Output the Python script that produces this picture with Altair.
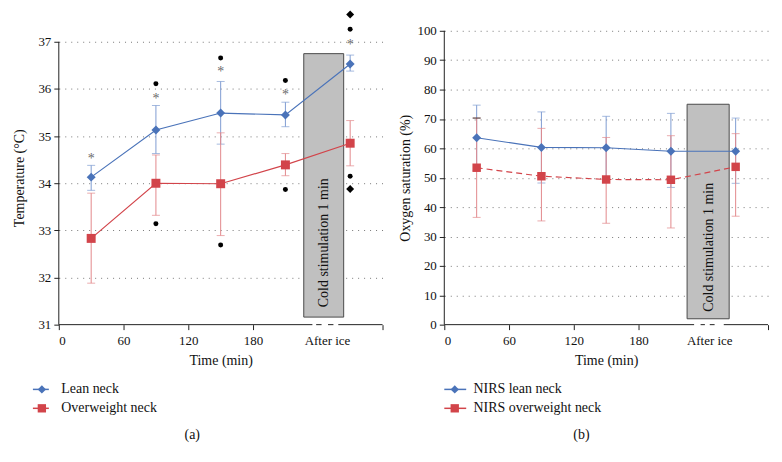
import altair as alt
import pandas as pd

FONT = "Liberation Serif"
BLUE = "#4a73b9"
BLUE_ERR = "#7f9dd2"
RED = "#d2444a"
RED_ERR = "#e2898c"

times = [30, 90, 150, 210, 270]

# ---------- panel (a): temperature ----------
lean_temp = [34.13, 35.13, 35.49, 35.45, 36.53]
lean_temp_hi = [34.38, 35.65, 36.16, 35.72, 36.72]
lean_temp_lo = [33.85, 34.63, 34.83, 35.20, 36.38]
over_temp = [32.83, 34.00, 33.99, 34.39, 34.85]
over_temp_hi = [33.79, 34.60, 35.07, 34.63, 35.33]
over_temp_lo = [31.88, 33.32, 32.89, 34.16, 34.37]

star_t = [30, 90, 150, 210, 270]
star_y = [34.58, 35.85, 36.42, 35.93, 36.99]
dot_t = [90, 150, 210, 270, 90, 150, 210, 270]
dot_y = [36.11, 36.66, 36.18, 37.27, 33.14, 32.69, 33.87, 34.15]
dia_t = [270, 270]
dia_y = [37.58, 33.88]

# ---------- panel (b): oxygen saturation ----------
nirs_lean = [63.6, 60.3, 60.2, 59.0, 59.0]
nirs_lean_hi = [74.7, 72.4, 70.9, 71.9, 70.3]
nirs_lean_lo = [52.5, 48.2, 49.5, 46.7, 48.1]
nirs_over = [53.4, 50.5, 49.4, 49.3, 53.7]
nirs_over_hi = [70.3, 66.8, 63.7, 64.3, 65.0]
nirs_over_lo = [36.5, 35.3, 34.5, 32.9, 36.9]
dark_cap_t = [30]
dark_cap_v = [70.3]

x_ticks = [0, 60, 120, 180, 300]
temp_ticks = [31, 32, 33, 34, 35, 36, 37]
sat_ticks = [0, 10, 20, 30, 40, 50, 60, 70, 80, 90, 100]

box_label = "Cold stimulation 1 min"
after_label = "After ice"

legend_a = ["Lean neck", "Overweight neck"]
legend_b = ["NIRS lean neck", "NIRS overweight neck"]


def make_panel(cfg):
    W, H = 325, 295
    ymin, ytop = cfg["ydom"]
    xs = alt.Scale(domain=[0, 300], nice=False, zero=False)
    ys = alt.Scale(domain=[ymin, ytop], nice=False, zero=False)
    xaxis = alt.Axis(values=x_ticks,
                     labelExpr="datum.value == 300 ? '' : datum.label",
                     domain=False, grid=False, tickSize=5, tickColor="#222",
                     labelPadding=5, labelFontSize=13, labelColor="#111",
                     title="Time (min)", titleFontSize=14, titleFontWeight="normal",
                     titleColor="#111", titlePadding=6)
    yaxis = alt.Axis(values=cfg["yvals"], domain=False, grid=True,
                     gridDash=[1, 5], gridColor="#777", gridWidth=1,
                     gridOpacity={"condition": {"test": f"datum.value == {ymin}", "value": 0}, "value": 1},
                     tickSize=5, tickColor="#222", labelPadding=3,
                     labelFontSize=13, labelColor="#111",
                     title=cfg["ytitle"], titleFontSize=14, titleFontWeight="normal",
                     titleColor="#111", titlePadding=cfg["ytp"])

    def X(f):
        return alt.X(f, type="quantitative", scale=xs, axis=xaxis)

    def Y(f):
        return alt.Y(f, type="quantitative", scale=ys, axis=yaxis)

    layers = []
    # stimulation box
    bx = pd.DataFrame({"t0": [cfg["box"][0]], "t1": [cfg["box"][1]],
                       "lo": [cfg["box"][2]], "hi": [cfg["box"][3]]})
    layers.append(alt.Chart(bx).mark_rect(fill="#c0c0c0", stroke="#4a4a4a", strokeWidth=1).encode(
        x=X("t0"), x2="t1", y=Y("lo"), y2="hi"))
    bt = pd.DataFrame({"t": [cfg["box_text"][0]], "v": [cfg["box_text"][1]], "lab": [box_label]})
    layers.append(alt.Chart(bt).mark_text(angle=270, align="left", baseline="middle",
                                          fontSize=14, color="#111").encode(
        x=X("t"), y=Y("v"), text="lab"))
    # broken x axis line
    segs = pd.DataFrame({"a": cfg["segs"][0], "b": cfg["segs"][1],
                         "v": [ymin] * len(cfg["segs"][0])})
    layers.append(alt.Chart(segs).mark_rule(color="#222", strokeWidth=1).encode(
        x=X("a"), x2="b", y=Y("v")))
    # y axis line
    yl = pd.DataFrame({"t": [0], "lo": [ymin], "hi": [cfg["ymax"]]})
    layers.append(alt.Chart(yl).mark_rule(color="#222", strokeWidth=1).encode(
        x=X("t"), y=Y("lo"), y2="hi"))
    # after-ice label
    al = pd.DataFrame({"t": [cfg["after_t"]], "v": [ymin], "lab": [after_label]})
    layers.append(alt.Chart(al).mark_text(baseline="top", dy=10, fontSize=13, color="#111").encode(
        x=X("t"), y=Y("v"), text="lab"))

    for s in cfg["series"]:
        df = pd.DataFrame({"t": times, "v": s["v"], "lo": s["lo"], "hi": s["hi"]})
        layers.append(alt.Chart(df).mark_rule(color=s["err"], strokeWidth=1).encode(
            x=X("t"), y=Y("lo"), y2="hi"))
        layers.append(alt.Chart(df).mark_tick(color=s["err"], orient="horizontal",
                                              size=8, thickness=1).encode(x=X("t"), y=Y("lo")))
        layers.append(alt.Chart(df).mark_tick(color=s["err"], orient="horizontal",
                                              size=8, thickness=1).encode(x=X("t"), y=Y("hi")))
    if cfg.get("dark_cap"):
        dc = pd.DataFrame({"t": dark_cap_t, "v": dark_cap_v})
        layers.append(alt.Chart(dc).mark_tick(color="#333", orient="horizontal",
                                              size=8, thickness=1.3).encode(x=X("t"), y=Y("v")))
    for s in cfg["series"]:
        df = pd.DataFrame({"t": times, "v": s["v"]})
        lk = dict(color=s["color"], strokeWidth=1.2)
        if s.get("dash"):
            lk["strokeDash"] = s["dash"]
        layers.append(alt.Chart(df).mark_line(**lk).encode(x=X("t"), y=Y("v")))
        layers.append(alt.Chart(df).mark_point(shape=s["shape"], filled=True, size=s["size"],
                                               color=s["color"], opacity=1).encode(
            x=X("t"), y=Y("v")))
    if cfg.get("ann"):
        sd = pd.DataFrame({"t": star_t, "v": star_y, "lab": ["*"] * len(star_t)})
        layers.append(alt.Chart(sd).mark_text(fontSize=14, color="#6a6a6a", baseline="middle", dy=3).encode(
            x=X("t"), y=Y("v"), text="lab"))
        dd = pd.DataFrame({"t": dot_t, "v": dot_y})
        layers.append(alt.Chart(dd).mark_point(shape="circle", filled=True, size=25,
                                               color="#000", opacity=1).encode(x=X("t"), y=Y("v")))
        dm = pd.DataFrame({"t": dia_t, "v": dia_y})
        layers.append(alt.Chart(dm).mark_point(shape="diamond", filled=True, size=64,
                                               color="#000", opacity=1).encode(x=X("t"), y=Y("v")))
    return alt.layer(*layers).properties(width=W, height=H)


def make_legend(labels, colors, shapes, geo, caption, cap_x):
    rows = pd.DataFrame({"lab": labels, "color": colors, "shape": shapes,
                         "x0": [geo[0]] * 2, "x1": [geo[1]] * 2, "xm": [geo[2]] * 2,
                         "xt": [geo[3]] * 2, "y": [15, 34]})
    xs = alt.Scale(domain=[0, 325], nice=False, zero=False)
    ys = alt.Scale(domain=[0, 80], nice=False, zero=False, reverse=True)
    base = alt.Chart(rows)
    cscale = alt.Scale(domain=labels, range=colors)
    sscale = alt.Scale(domain=labels, range=shapes)
    ln = base.mark_rule(strokeWidth=1.5).encode(
        x=alt.X("x0:Q", scale=xs, axis=None), x2="x1",
        y=alt.Y("y:Q", scale=ys, axis=None),
        color=alt.Color("lab:N", scale=cscale, legend=None))
    pt = base.mark_point(filled=True, size=70, opacity=1).encode(
        x=alt.X("xm:Q", scale=xs, axis=None), y=alt.Y("y:Q", scale=ys, axis=None),
        color=alt.Color("lab:N", scale=cscale, legend=None),
        shape=alt.Shape("lab:N", scale=sscale, legend=None))
    tx = base.mark_text(align="left", baseline="middle", fontSize=14, color="#111").encode(
        x=alt.X("xt:Q", scale=xs, axis=None), y=alt.Y("y:Q", scale=ys, axis=None), text="lab")
    cap = pd.DataFrame({"x": [cap_x], "y": [61], "lab": [caption]})
    ct = alt.Chart(cap).mark_text(align="center", baseline="middle", fontSize=14, color="#111").encode(
        x=alt.X("x:Q", scale=xs, axis=None), y=alt.Y("y:Q", scale=ys, axis=None), text="lab")
    return alt.layer(ln, pt, tx, ct).properties(width=325, height=80)


cfg_a = dict(
    ydom=[31, 37.235], ymax=37, yvals=temp_ticks, ytitle="Temperature (°C)", ytp=11,
    box=[227, 264, 31.16, 36.75], box_text=[245.5, 31.37],
    segs=[[0, 238.5, 249.5, 259], [235, 243.5, 254.5, 300]],
    after_t=249, ann=True,
    series=[
        dict(v=lean_temp, lo=lean_temp_lo, hi=lean_temp_hi, color=BLUE, err=BLUE_ERR,
             shape="diamond", size=81),
        dict(v=over_temp, lo=over_temp_lo, hi=over_temp_hi, color=RED, err=RED_ERR,
             shape="square", size=81),
    ])

cfg_b = dict(
    ydom=[0, 100], ymax=100, yvals=sat_ticks, ytitle="Oxygen saturation (%)", ytp=4,
    box=[225, 264, 2, 75], box_text=[245.5, 4.4],
    segs=[[0, 237.5, 246, 259], [231.5, 241.5, 250.5, 300]],
    after_t=246, ann=False, dark_cap=True,
    series=[
        dict(v=nirs_lean, lo=nirs_lean_lo, hi=nirs_lean_hi, color=BLUE, err=BLUE_ERR,
             shape="diamond", size=81),
        dict(v=nirs_over, lo=nirs_over_lo, hi=nirs_over_hi, color=RED, err=RED_ERR,
             shape="square", size=72, dash=[6, 4]),
    ])

left = make_panel(cfg_a)
right = make_panel(cfg_b)
leg_a = make_legend(legend_a, [BLUE, RED], ["diamond", "square"], [-26, -10, -17, 2.5], "(a)", 134)
leg_b = make_legend(legend_b, [BLUE, RED], ["diamond", "square"], [0, 22, 10.5, 29.3], "(b)", 137.7)

chart = alt.concat(left, right, leg_a, leg_b, columns=2,
                   spacing={"row": 50, "column": 62}, bounds="flush").properties(
    padding={"left": 5, "top": 1, "right": 5, "bottom": 5}
).configure_view(stroke=None).configure_axis(
    labelFont=FONT, titleFont=FONT
).configure_text(font=FONT)

chart.save("out.html", embed_options={"renderer": "svg", "actions": False})
